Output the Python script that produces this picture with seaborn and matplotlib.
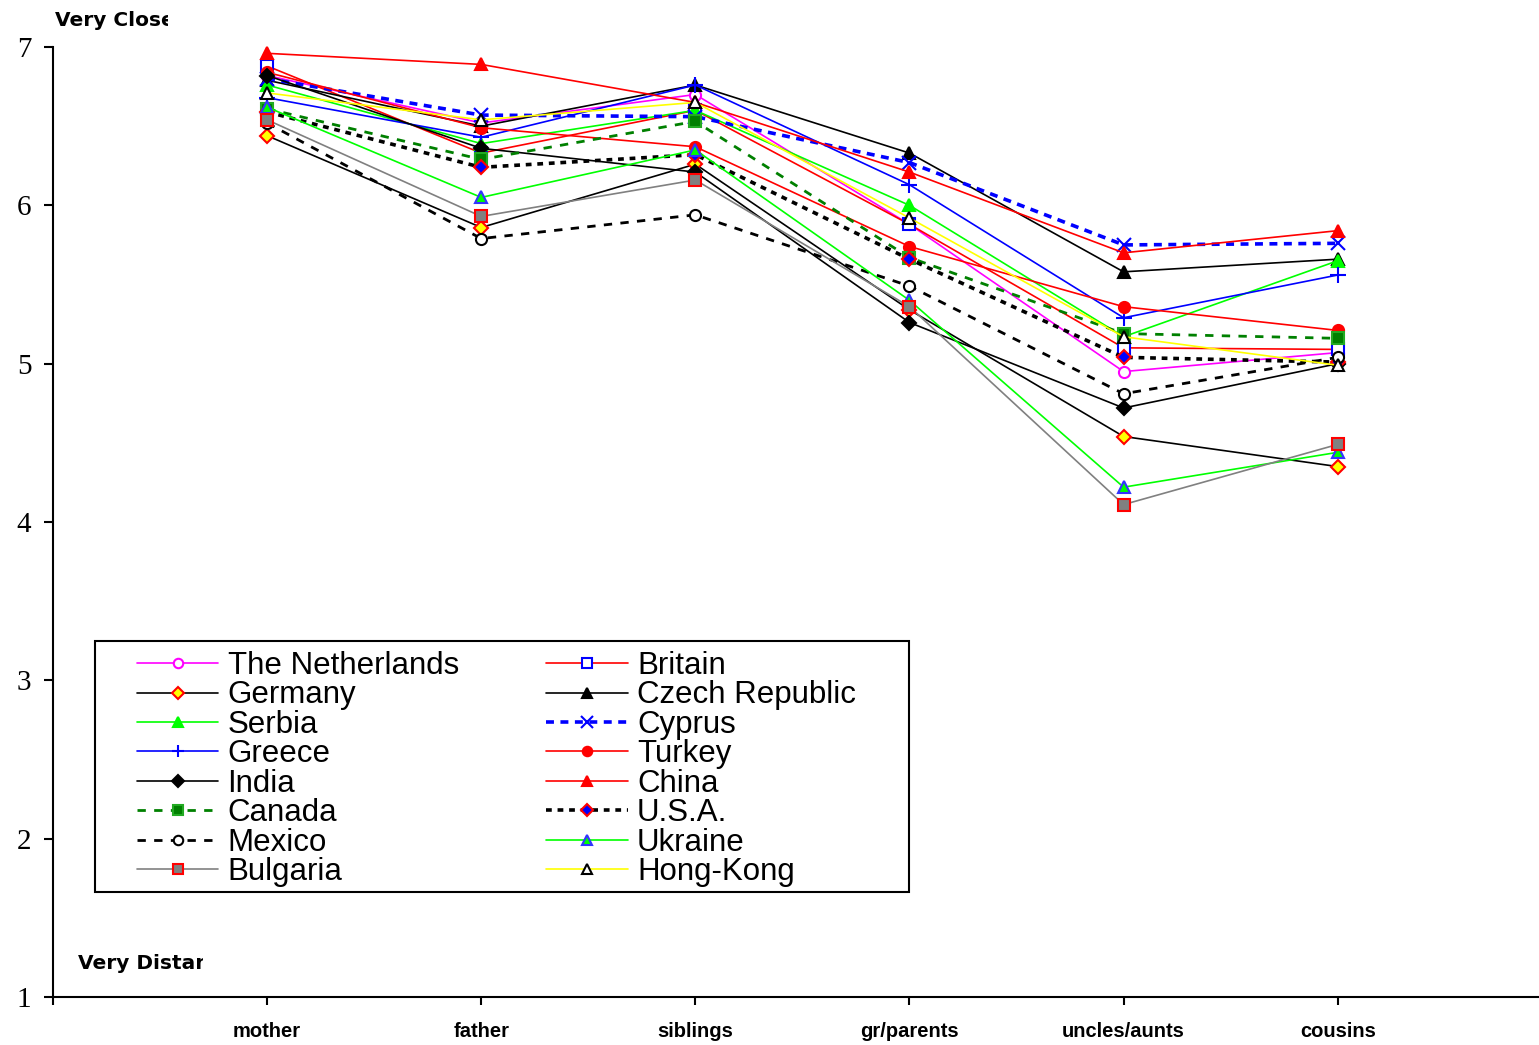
import matplotlib
matplotlib.use("Agg")
import matplotlib.pyplot as plt
import pandas as pd
import seaborn as sns
from matplotlib.patches import Rectangle
from matplotlib.transforms import Bbox, TransformedBbox

categories = ["mother", "father", "siblings", "gr/parents", "uncles/aunts", "cousins"]

countries = ["The Netherlands", "Britain", "Germany", "Czech Republic", "Serbia", "Cyprus",
             "Greece", "Turkey", "India", "China", "Canada", "U.S.A.", "Mexico", "Ukraine",
             "Bulgaria", "Hong-Kong"]

netherlands = [6.82, 6.52, 6.70, 5.88, 4.95, 5.07]
britain = [6.88, 6.33, 6.60, 5.88, 5.10, 5.09]
germany = [6.44, 5.86, 6.26, 5.34, 4.54, 4.35]
czech = [6.79, 6.50, 6.76, 6.33, 5.58, 5.66]
serbia = [6.76, 6.39, 6.60, 6.00, 5.17, 5.65]
cyprus = [6.80, 6.57, 6.56, 6.27, 5.75, 5.76]
greece = [6.68, 6.43, 6.76, 6.13, 5.29, 5.56]
turkey = [6.84, 6.49, 6.37, 5.74, 5.36, 5.21]
india = [6.82, 6.36, 6.21, 5.26, 4.72, 5.00]
china = [6.96, 6.89, 6.65, 6.21, 5.70, 5.84]
canada = [6.61, 6.29, 6.53, 5.67, 5.19, 5.16]
usa = [6.59, 6.24, 6.32, 5.66, 5.04, 5.01]
mexico = [6.52, 5.79, 5.94, 5.49, 4.81, 5.04]
ukraine = [6.62, 6.05, 6.35, 5.40, 4.22, 4.44]
bulgaria = [6.54, 5.93, 6.16, 5.36, 4.11, 4.49]
hongkong = [6.71, 6.54, 6.65, 5.92, 5.17, 4.99]

series = [netherlands, britain, germany, czech, serbia, cyprus, greece, turkey, india,
          china, canada, usa, mexico, ukraine, bulgaria, hongkong]

df = pd.DataFrame({
    "relative": categories * len(countries),
    "closeness": [v for s in series for v in s],
    "country": [c for c in countries for _ in categories],
})

# line / marker look per country
styles = {
    "The Netherlands": dict(color="#FF00FF", marker="o", markerfacecolor="white", markeredgecolor="#FF00FF", markersize=8),
    "Britain": dict(color="#FF0000", marker="s", markerfacecolor="white", markeredgecolor="#0000FF", markersize=8),
    "Germany": dict(color="black", marker="D", markerfacecolor="#FFFF00", markeredgecolor="#FF0000", markersize=7),
    "Czech Republic": dict(color="black", marker="^", markerfacecolor="black", markeredgecolor="black", markersize=9),
    "Serbia": dict(color="#00FF00", marker="^", markerfacecolor="#00FF00", markeredgecolor="#00FF00", markersize=9),
    "Cyprus": dict(color="#0000FF", marker="x", markerfacecolor="#0000FF", markeredgecolor="#0000FF", markersize=10,
                   linewidth=2.6, linestyle=(0, (2.2, 1.8))),
    "Greece": dict(color="#0000FF", marker="+", markerfacecolor="#0000FF", markeredgecolor="#0000FF", markersize=11),
    "Turkey": dict(color="#FF0000", marker="o", markerfacecolor="#FF0000", markeredgecolor="#FF0000", markersize=8),
    "India": dict(color="black", marker="D", markerfacecolor="black", markeredgecolor="black", markersize=7),
    "China": dict(color="#FF0000", marker="^", markerfacecolor="#FF0000", markeredgecolor="#FF0000", markersize=9),
    "Canada": dict(color="#008000", marker="s", markerfacecolor="#008000", markeredgecolor="#22AA22", markersize=8,
                   linewidth=2.0, linestyle=(0, (3, 3))),
    "U.S.A.": dict(color="black", marker="D", markerfacecolor="#0000FF", markeredgecolor="#FF0000", markersize=7,
                   linewidth=2.6, linestyle=(0, (1.6, 1.6))),
    "Mexico": dict(color="black", marker="o", markerfacecolor="white", markeredgecolor="black", markersize=8,
                   linewidth=2.0, linestyle=(0, (3, 3))),
    "Ukraine": dict(color="#00FF00", marker="^", markerfacecolor="#00FF00", markeredgecolor="#3333FF", markersize=9),
    "Bulgaria": dict(color="#808080", marker="s", markerfacecolor="#808080", markeredgecolor="#FF0000", markersize=8),
    "Hong-Kong": dict(color="#FFFF00", marker="^", markerfacecolor="white", markeredgecolor="black", markersize=9),
}

sns.set_style("white")
plt.rcParams["font.family"] = ["Liberation Sans", "DejaVu Sans"]
plt.rcParams["text.color"] = "black"
plt.rcParams["xtick.color"] = "black"
plt.rcParams["ytick.color"] = "black"
plt.rcParams["axes.labelcolor"] = "black"

fig = plt.figure(figsize=(15.39, 10.45), dpi=100)
ax = fig.add_axes([53 / 1539, 48 / 1045, 1 - 53 / 1539, 950 / 1045])

for country in countries:
    st = dict(linewidth=1.2, markeredgewidth=1.5)
    st.update(styles[country])
    sns.lineplot(data=df[df["country"] == country], x="relative", y="closeness",
                 sort=False, estimator=None, ax=ax, label=country, legend=False,
                 clip_on=False, **st)

ax.set_xlim(-1, 5.94)
ax.set_ylim(1, 7)
ax.set_yticks(range(1, 8))
ax.set_yticklabels([str(i) for i in range(1, 8)], family="Liberation Serif", fontsize=21)
ax.set_xticks(range(len(categories)))
ax.set_xticklabels(categories, fontsize=14.5, fontweight="bold")
ax.set_xticks([-1], minor=True)
ax.set_xlabel("")
ax.set_ylabel("")
for side in ["top", "right"]:
    ax.spines[side].set_visible(False)
for side in ["left", "bottom"]:
    ax.spines[side].set_linewidth(1.5)
    ax.spines[side].set_color("black")
ax.tick_params(axis="y", direction="out", length=6.5, width=1.5, pad=9, left=True, colors="black")
ax.tick_params(axis="x", which="both", direction="out", length=6, width=1.5, pad=12, bottom=True, colors="black")

# clipped corner captions
t1 = fig.text(55 / 1539, 1 - 26 / 1045, "Very Close", fontsize=14.5, fontweight="bold",
              family="DejaVu Sans", ha="left", va="baseline", color="black")
t1.set_clip_box(TransformedBbox(Bbox([[0, 0.9], [168 / 1539, 1]]), fig.transFigure))
t1.set_clip_on(True)
t2 = fig.text(78 / 1539, 1 - 969 / 1045, "Very Distant", fontsize=14.5, fontweight="bold",
              family="DejaVu Sans", ha="left", va="baseline", color="black")
t2.set_clip_box(TransformedBbox(Bbox([[0, 0], [203 / 1539, 0.2]]), fig.transFigure))
t2.set_clip_on(True)

# legend: two columns, filled row by row
handles, labels = ax.get_legend_handles_labels()
order = list(range(0, 16, 2)) + list(range(1, 16, 2))
ax.add_patch(Rectangle(((95 - 53) / 1486, (997 - 892) / 950), (909 - 95) / 1486, (892 - 641) / 950,
                       transform=ax.transAxes, facecolor="white", edgecolor="black",
                       linewidth=1.5, zorder=4))
leg = ax.legend([handles[i] for i in order], [labels[i] for i in order], ncol=2,
                loc="upper left", bbox_to_anchor=((137 - 53) / 1486, (997 - 651) / 950),
                frameon=False, borderpad=0, borderaxespad=0, labelspacing=-0.018,
                handlelength=2.6, handletextpad=0.3, columnspacing=2.8, markerscale=0.85,
                prop={"family": "Liberation Sans", "size": 22.5})
leg.set_zorder(5)
for txt in leg.get_texts():
    txt.set_color("black")

fig.savefig("out.png", dpi=100)
